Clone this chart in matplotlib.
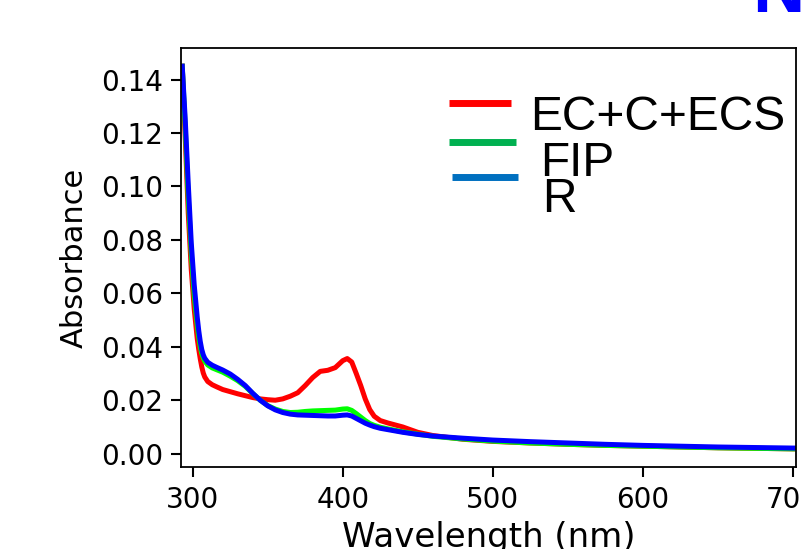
import matplotlib
matplotlib.use("Agg")
import matplotlib.pyplot as plt
from matplotlib.lines import Line2D

# ─────────────────────────────────────────────
# DATA: absorbance spectra
# ─────────────────────────────────────────────
wavelength = [293, 295, 297, 299, 301, 303, 304, 305, 306, 307, 308, 310, 313, 316,
              320, 325, 330, 335, 340, 345, 350, 355, 360, 365, 370, 375, 380, 385,
              390, 395, 400, 403, 406, 409, 412, 415, 418, 421, 425, 430, 440, 450,
              460, 480, 500, 525, 550, 575, 600, 625, 650, 675, 700, 702]

abs_red = [0.145, 0.118, 0.090, 0.069, 0.054, 0.043, 0.039, 0.0355, 0.0325, 0.0302,
           0.0287, 0.0270, 0.0258, 0.0250, 0.0240, 0.0232, 0.0224, 0.0217, 0.0210,
           0.0205, 0.0202, 0.0200, 0.0205, 0.0215, 0.0228, 0.0255, 0.0285, 0.0308,
           0.0312, 0.0322, 0.0348, 0.0356, 0.0343, 0.0300, 0.0255, 0.0205, 0.0165,
           0.0140, 0.0124, 0.0115, 0.0100, 0.0080, 0.0068, 0.0054, 0.0046, 0.0040,
           0.0035, 0.0031, 0.0028, 0.0025, 0.0022, 0.0020, 0.0018, 0.0018]

abs_green = [0.145, 0.122, 0.096, 0.075, 0.059, 0.048, 0.0435, 0.0400, 0.0375, 0.0358,
             0.0346, 0.0332, 0.0321, 0.0314, 0.0305, 0.0290, 0.0273, 0.0252, 0.0225,
             0.0200, 0.0180, 0.0167, 0.0158, 0.0154, 0.0155, 0.0158, 0.0160, 0.0161,
             0.0162, 0.0163, 0.0167, 0.0168, 0.0162, 0.0150, 0.0137, 0.0124, 0.0113,
             0.0106, 0.0099, 0.0093, 0.0082, 0.0073, 0.0065, 0.0055, 0.0047, 0.0040,
             0.0035, 0.0031, 0.0028, 0.0025, 0.0022, 0.0020, 0.0018, 0.0018]

abs_blue = [0.145, 0.125, 0.101, 0.079, 0.063, 0.051, 0.0460, 0.0420, 0.0390, 0.0370,
            0.0357, 0.0342, 0.0331, 0.0323, 0.0313, 0.0298, 0.0278, 0.0255, 0.0226,
            0.0200, 0.0179, 0.0164, 0.0154, 0.0148, 0.0145, 0.0144, 0.0143, 0.0142,
            0.0141, 0.0141, 0.0144, 0.0145, 0.0141, 0.0132, 0.0123, 0.0114, 0.0107,
            0.0101, 0.0095, 0.0090, 0.0080, 0.0072, 0.0066, 0.0058, 0.0051, 0.0045,
            0.0040, 0.0035, 0.0031, 0.0028, 0.0025, 0.0023, 0.0021, 0.0021]

legend_labels = ["EC+C+ECS", "FIP", "R"]
legend_colors = ["#ff0000", "#00b050", "#0070c0"]
x_ticks = [300, 400, 500, 600, 700]
y_ticks = [0.00, 0.02, 0.04, 0.06, 0.08, 0.10, 0.12, 0.14]

# ─────────────────────────────────────────────
# FIGURE
# ─────────────────────────────────────────────
W, H = 803, 549
fig = plt.figure(figsize=(W / 100, H / 100), dpi=100)
ax = fig.add_axes([181.5 / W, 81.7 / H, 614.5 / W, 419 / H])

ax.plot(wavelength, abs_red, color="#ff0000", linewidth=3.6)
ax.plot(wavelength, abs_green, color="#00ff00", linewidth=3.6)
ax.plot(wavelength, abs_blue, color="#0000ff", linewidth=3.6)

ax.set_xlim(292.5, 702.2)
ax.set_ylim(-0.0051, 0.1517)
ax.set_xticks(x_ticks)
ax.set_yticks(y_ticks)
ax.set_yticklabels([f"{v:.2f}" for v in y_ticks])
ax.tick_params(direction="out", length=7.2, width=1.5, labelsize=20, pad=6)
for sp in ax.spines.values():
    sp.set_linewidth(1.3)

ax.set_xlabel("Wavelength (nm)", fontsize=24.5, labelpad=5)
ax.set_ylabel("Absorbance", fontsize=22, labelpad=9)

# Legend drawn by hand (pasted-on look of the original)
handle_rows = [(449.5, 511.5, 103), (449.5, 516, 141.5), (452, 518, 176.5)]
text_rows = [(530, 130.5), (540.5, 176), (542, 212)]
for lab, col, (x0, x1, yy), (tx, ty) in zip(legend_labels, legend_colors,
                                            handle_rows, text_rows):
    fig.add_artist(Line2D([x0 / W, x1 / W], [1 - yy / H, 1 - yy / H],
                          color=col, linewidth=5, solid_capstyle="butt",
                          transform=fig.transFigure))
    fig.text(tx / W, 1 - ty / H, lab, fontsize=34.5, family="Liberation Sans",
             va="baseline", ha="left")

# Panel letter, mostly cropped off the top edge
fig.text(752 / W, 1 - 12 / H, "N", color="#0000ff", fontsize=52,
         fontweight="bold", family="Liberation Sans", va="baseline", ha="left")

fig.savefig("out.png", dpi=100)
